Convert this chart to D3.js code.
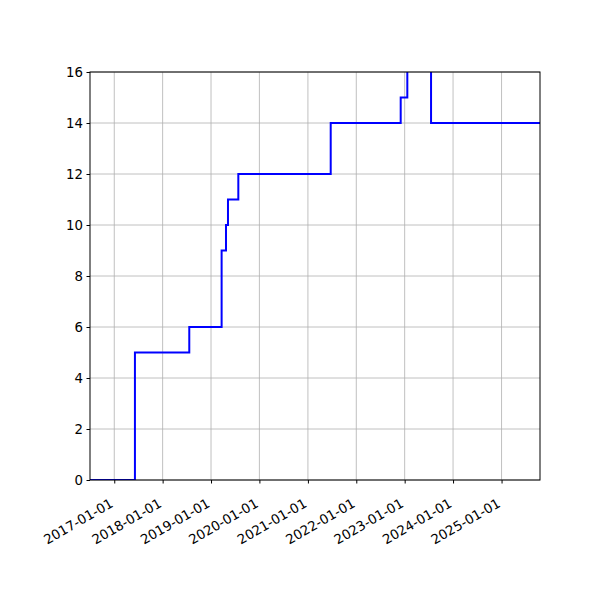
<!DOCTYPE html>
<html><head><meta charset="utf-8">
<script src="https://cdn.jsdelivr.net/npm/d3@7"></script>
<style>body{margin:0;background:#fff}svg{display:block}</style>
</head><body>
<div id="chart"></div>
<script>
const stepDates = ["2016-06-01","2017-06-06","2018-07-21","2019-03-22","2019-04-24","2019-05-09","2019-07-26","2021-06-22","2022-12-02","2023-01-21","2023-07-19","2025-12-31"];
const stepValues = [0,5,6,9,10,11,12,14,15,17,14,14];
const xTickLabels = ["2017-01-01","2018-01-01","2019-01-01","2020-01-01","2021-01-01","2022-01-01","2023-01-01","2024-01-01","2025-01-01"];
const yTicks = [0,2,4,6,8,10,12,14,16];
const xDomain = ["2016-07-02","2025-10-18"];
const yDomain = [0,16];

const W=600,H=600, m={l:90,r:60,t:72,b:120};
const parse = d3.utcParse("%Y-%m-%d");
const svg = d3.select("#chart").append("svg").attr("width",W).attr("height",H);
const x = d3.scaleUtc().domain(xDomain.map(parse)).range([m.l, W-m.r]);
const y = d3.scaleLinear().domain(yDomain).range([H-m.b, m.t]);
const font = "DejaVu Sans, sans-serif";

// grid
const g = svg.append("g");
g.selectAll(".vg").data(xTickLabels.map(parse)).join("line")
 .attr("x1",d=>x(d)).attr("x2",d=>x(d)).attr("y1",m.t).attr("y2",H-m.b)
 .attr("stroke","#b0b0b0").attr("stroke-width",0.8);
g.selectAll(".hg").data(yTicks).join("line")
 .attr("x1",m.l).attr("x2",W-m.r).attr("y1",d=>y(d)).attr("y2",d=>y(d))
 .attr("stroke","#b0b0b0").attr("stroke-width",0.8);

svg.append("clipPath").attr("id","clip").append("rect")
 .attr("x",m.l).attr("y",m.t).attr("width",W-m.l-m.r).attr("height",H-m.t-m.b);

const data = stepDates.map((d,i)=>({d:parse(d), v:stepValues[i]}));
const line = d3.line().x(d=>x(d.d)).y(d=>y(d.v)).curve(d3.curveStepAfter);
svg.append("path").datum(data).attr("clip-path","url(#clip)")
 .attr("d",line).attr("fill","none").attr("stroke","#0000ff").attr("stroke-width",2);

// axes frame
svg.append("rect").attr("x",m.l).attr("y",m.t).attr("width",W-m.l-m.r).attr("height",H-m.t-m.b)
 .attr("fill","none").attr("stroke","#000").attr("stroke-width",1);

// y axis
const ya = svg.append("g").attr("transform",`translate(${m.l},0)`)
 .call(d3.axisLeft(y).tickValues(yTicks).tickSize(3.5).tickPadding(3.5).tickFormat(d3.format("d")));
ya.select(".domain").remove();
ya.selectAll("text").attr("font-family",font).attr("font-size",13.3).attr("fill","#000");

// x axis
const xa = svg.append("g").attr("transform",`translate(0,${H-m.b})`)
 .call(d3.axisBottom(x).tickValues(xTickLabels.map(parse)).tickSize(3.5).tickFormat(d3.utcFormat("%Y-%m-%d")));
xa.select(".domain").remove();
xa.selectAll("text").attr("font-family",font).attr("font-size",13.3).attr("fill","#000")
 .attr("text-anchor","end").attr("dy","0.35em").attr("y",0)
 .attr("transform","translate(-3,22) rotate(-30)");
</script>
</body></html>
